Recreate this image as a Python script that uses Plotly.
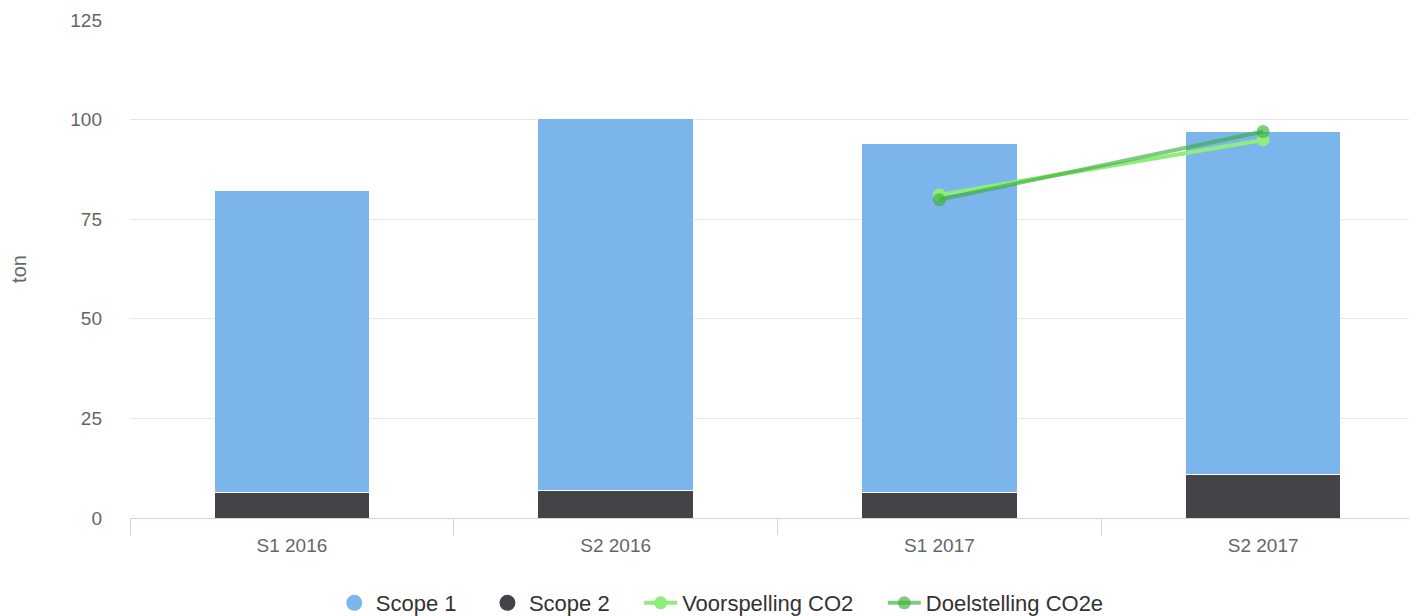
import plotly.graph_objects as go

categories = ["S1 2016", "S2 2016", "S1 2017", "S2 2017"]
scope1 = [75.6, 93.2, 87.6, 86.3]
scope2 = [6.5, 7.0, 6.5, 10.8]
forecast_x = ["S1 2017", "S2 2017"]
forecast = [81.1, 94.9]
target_x = ["S1 2017", "S2 2017"]
target = [79.9, 97.0]
y_ticks = [0, 25, 50, 75, 100, 125]

FONT = "Liberation Sans, Arial, sans-serif"
C_S1 = "#7cb5ec"
C_S2 = "#434348"
C_FC = "#90ed7d"
C_TG = "rgba(60,175,60,0.65)"
PAD = "\u00a0" * 4  # spacing between legend entries

fig = go.Figure()

fig.add_trace(go.Bar(
    x=categories, y=scope2, name="Scope 2", marker=dict(color=C_S2, line=dict(color="white", width=1)),
    showlegend=False, legendgroup="s2"
))
fig.add_trace(go.Bar(
    x=categories, y=scope1, name="Scope 1", marker=dict(color=C_S1, line=dict(color="white", width=1)),
    showlegend=False, legendgroup="s1"
))

# legend-only circle markers for the bar series
fig.add_trace(go.Scatter(
    x=[None], y=[None], mode="markers", name="Scope 1" + PAD, legendgroup="s1",
    marker=dict(symbol="circle", size=20, color=C_S1)
))
fig.add_trace(go.Scatter(
    x=[None], y=[None], mode="markers", name="Scope 2" + PAD, legendgroup="s2",
    marker=dict(symbol="circle", size=20, color=C_S2)
))

fig.add_trace(go.Scatter(
    x=forecast_x, y=forecast, mode="lines+markers", name="Voorspelling CO2" + PAD,
    line=dict(color=C_FC, width=4), marker=dict(size=13, color=C_FC)
))
fig.add_trace(go.Scatter(
    x=target_x, y=target, mode="lines+markers", name="Doelstelling CO2e",
    line=dict(color=C_TG, width=4), marker=dict(size=13, color=C_TG)
))

# page body adds an 8px offset, margins compensate for it
fig.update_layout(
    barmode="stack",
    bargap=0.52,
    width=1417, height=616,
    margin=dict(l=122, r=0, t=12, b=106, autoexpand=False),
    paper_bgcolor="white",
    plot_bgcolor="white",
    font=dict(family=FONT, color="#666666", size=19),
    showlegend=True,
    legend=dict(
        orientation="h", xref="container", yref="container",
        x=0.503, xanchor="center", y=0.0, yanchor="bottom",
        font=dict(size=22, color="#333333"), traceorder="normal",
        itemwidth=33,
    ),
    hovermode=False,
)

fig.update_xaxes(
    type="category", categoryorder="array", categoryarray=categories,
    showgrid=False, showline=True, linecolor="#ccd6eb", linewidth=1,
    ticks="outside", tickson="boundaries", ticklen=16, tickcolor="#ccd6eb",
    tickfont=dict(size=19, color="#666666"), range=[-0.5, 3.5],
    ticklabelstandoff=10,
)
fig.update_yaxes(
    range=[0, 125], tickvals=y_ticks, showgrid=True, gridcolor="#e6e6e6", gridwidth=1,
    zeroline=False, showline=False, ticks="", ticklabelstandoff=27,
    tickfont=dict(size=19, color="#666666"),
    title=dict(text="ton", font=dict(size=20, color="#666666"), standoff=39),
)

fig.write_html("out.html")
